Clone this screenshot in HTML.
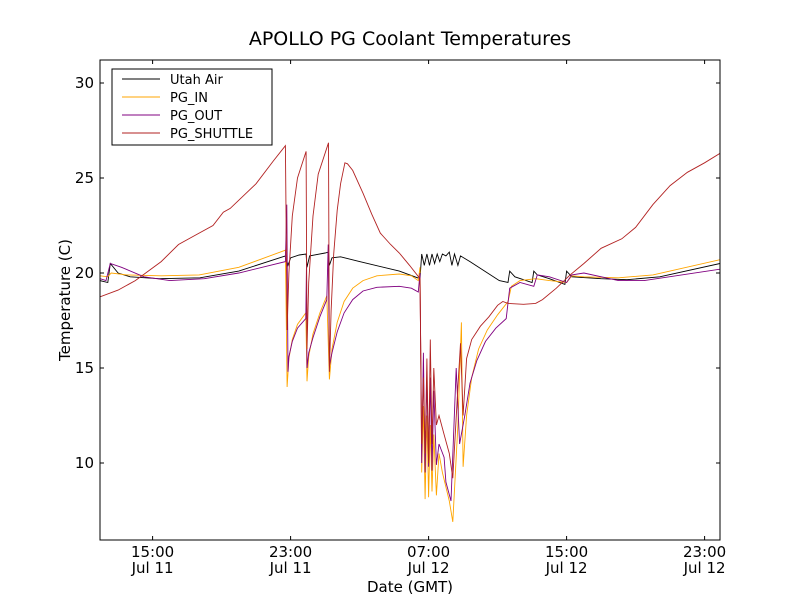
<!DOCTYPE html>
<html><head><meta charset="utf-8"><style>
body{margin:0;background:#fff;}
svg{font-family:"DejaVu Sans","Liberation Sans",sans-serif;}
</style></head><body>
<svg id="chart" width="800" height="600" xmlns="http://www.w3.org/2000/svg">
<rect width="800" height="600" fill="#fff"/>
<defs><clipPath id="clip"><rect x="100" y="60" width="620" height="480"/></clipPath></defs>
<text x="410" y="45" text-anchor="middle" font-size="19">APOLLO PG Coolant Temperatures</text>
<g id="series" clip-path="url(#clip)"></g>
<g id="axes"></g>
<rect x="100" y="60" width="620" height="480" fill="none" stroke="#000" stroke-width="1"/>
<text x="410" y="592" text-anchor="middle" font-size="15">Date (GMT)</text>
<text transform="translate(70,300) rotate(-90)" text-anchor="middle" font-size="15">Temperature (C)</text>
<g id="legend">
<rect x="112" y="69" width="160" height="76" fill="#fff" stroke="#000" stroke-width="1"/>
</g>
</svg>
<script>
const seriesNames = ["Utah Air","PG_IN","PG_OUT","PG_SHUTTLE"];
const seriesColors = ["#000000","#ffa500","#800080","#b22222"];
const yTicks = [10,15,20,25,30];
const xTickHours = [15,23,31,39,47];
const xTickLabels = [["15:00","Jul 11"],["23:00","Jul 11"],["07:00","Jul 12"],["15:00","Jul 12"],["23:00","Jul 12"]];
const utahAir = [[11.95,19.6],[12.4,19.5],[12.55,20.5],[13.0,20.0],[13.7,19.8],[15.4,19.7],[17.75,19.75],[20,20.1],[22.7,20.9],[22.85,20.4],[23.0,20.8],[23.5,20.95],[23.9,21.0],[23.95,20.3],[24.1,20.9],[25.0,21.05],[25.2,21.1],[25.25,20.4],[25.4,20.8],[25.9,20.85],[27,20.6],[29.3,20.1],[30.5,19.7],[30.6,21.0],[30.75,20.4],[30.9,21.0],[31.05,20.4],[31.2,21.0],[31.35,20.5],[31.5,21.0],[31.65,20.6],[31.8,21.0],[32.0,20.9],[32.2,21.1],[32.35,20.4],[32.5,21.0],[32.7,20.4],[32.85,20.9],[33.4,20.6],[35.1,19.6],[35.6,19.5],[35.7,20.1],[36.0,19.8],[37.0,19.5],[37.1,20.1],[37.3,19.9],[38.0,19.7],[38.9,19.4],[39.0,20.1],[39.3,19.8],[41,19.7],[42.5,19.65],[44.4,19.8],[47.9,20.5]];
const pgIn = [[11.95,19.85],[12.4,19.8],[12.6,20.0],[13.5,19.9],[15.5,19.85],[17.7,19.9],[20,20.3],[22.7,21.2],[22.8,14.0],[22.9,15.5],[23.1,16.5],[23.4,17.3],[23.88,17.9],[23.95,14.3],[24.05,15.6],[24.3,16.8],[24.7,17.9],[25.1,18.8],[25.25,14.4],[25.4,16.0],[25.7,17.4],[26.1,18.5],[26.6,19.2],[27.2,19.6],[28,19.85],[29.3,19.95],[30,19.85],[30.4,19.6],[30.5,20.3],[30.6,9.5],[30.7,13],[30.8,8.1],[30.9,12.5],[31.0,8.2],[31.1,12],[31.2,8.5],[31.3,11.5],[31.45,8.3],[31.6,10.5],[31.8,9.5],[32.2,8.0],[32.4,6.9],[32.7,12],[32.9,17.4],[33.0,9.8],[33.2,12.5],[33.5,14.5],[33.9,16],[34.4,17],[35,17.8],[35.6,18.5],[35.8,19.3],[36.3,19.6],[37.2,19.7],[38,19.6],[39,19.5],[39.3,19.85],[40,19.8],[42,19.75],[44,19.9],[47.9,20.7]];
const pgOut = [[11.95,19.7],[12.3,19.6],[12.55,20.5],[13.2,20.3],[14.5,19.8],[16,19.6],[18,19.7],[20,20.0],[22.7,20.6],[22.78,23.6],[22.85,14.8],[22.9,15.6],[23.1,16.4],[23.4,17.1],[23.88,17.6],[23.92,20.5],[23.95,15],[24.05,15.8],[24.3,16.6],[24.7,17.7],[25.1,18.6],[25.18,21.5],[25.25,15.1],[25.4,15.8],[25.7,16.9],[26.1,17.9],[26.6,18.6],[27.2,19.05],[28,19.25],[29.3,19.3],[30,19.2],[30.4,19.0],[30.5,20.0],[30.6,10],[30.7,15.8],[30.8,9.5],[30.9,14.5],[31.0,9.8],[31.1,14.5],[31.2,9.6],[31.3,13.8],[31.45,9.9],[31.6,11],[31.9,10.3],[32.0,9.0],[32.3,8.0],[32.6,15],[32.8,11],[33.1,12.5],[33.4,14.2],[33.8,15.4],[34.3,16.4],[34.9,17.1],[35.5,17.6],[35.7,19.2],[36.3,19.5],[37.1,19.3],[37.3,19.9],[38,19.8],[39,19.5],[39.3,19.9],[40,20],[42,19.6],[43.5,19.6],[47.9,20.2]];
const pgShuttle = [[11.95,18.75],[13,19.1],[14,19.6],[15.5,20.6],[16.5,21.5],[17.5,22.0],[18.5,22.5],[19.1,23.2],[19.5,23.4],[21,24.7],[22,25.9],[22.7,26.7],[22.8,17.0],[22.9,20],[23.1,23],[23.4,25],[23.9,26.4],[23.95,16.0],[24.05,19.5],[24.3,23],[24.6,25.2],[25.2,26.85],[25.25,14.8],[25.35,18],[25.5,21],[25.7,23.3],[25.9,24.7],[26.15,25.8],[26.3,25.75],[26.6,25.4],[27.2,24.2],[27.7,23.1],[28.2,22.1],[28.8,21.5],[29.3,21.05],[29.9,20.4],[30.5,19.7],[30.6,11],[30.7,14.5],[30.8,10.5],[30.9,15.5],[31.0,10],[31.1,16.5],[31.2,11],[31.3,15],[31.45,12],[31.6,12.5],[31.9,11.5],[32.2,10.5],[32.4,9.2],[32.7,14],[32.85,16.3],[33.0,12.5],[33.2,15.5],[33.5,16.5],[34,17.2],[34.5,17.7],[35,18.3],[35.3,18.5],[35.6,18.4],[36.5,18.35],[37.2,18.4],[37.6,18.6],[38.4,19.2],[39.2,19.9],[40,20.5],[41,21.3],[42.2,21.8],[43,22.4],[44,23.6],[45,24.6],[46,25.3],[47,25.8],[47.9,26.3]];
const allSeries = [utahAir,pgIn,pgOut,pgShuttle];

const NS="http://www.w3.org/2000/svg";
function xScale(h){return 152.6+17.25*(h-15);}
function yScale(v){return 463-(v-10)*19;}
const sg=document.getElementById('series');
const slugs=["utah-air","pg-in","pg-out","pg-shuttle"];
allSeries.forEach((s,i)=>{
  const p=document.createElementNS(NS,'path');
  p.setAttribute('d',s.map((pt,j)=>(j?'L':'M')+xScale(pt[0]).toFixed(1)+' '+yScale(pt[1]).toFixed(1)).join(''));
  p.setAttribute('fill','none');p.setAttribute('stroke',seriesColors[i]);p.setAttribute('stroke-width','0.9');
  
  
  sg.appendChild(p);
});
const ag=document.getElementById('axes');
function line(x1,y1,x2,y2){const l=document.createElementNS(NS,'line');l.setAttribute('x1',x1);l.setAttribute('y1',y1);l.setAttribute('x2',x2);l.setAttribute('y2',y2);l.setAttribute('stroke','#000');ag.appendChild(l);return l;}
function text(x,y,t,anchor){const e=document.createElementNS(NS,'text');e.setAttribute('x',x);e.setAttribute('y',y);e.setAttribute('font-size','15');e.setAttribute('text-anchor',anchor);e.textContent=t;ag.appendChild(e);return e;}
yTicks.forEach(v=>{
  const y=yScale(v);
  line(100,y,104,y);line(716,y,720,y);
  const t=text(94,y+5,String(v),'end');
  
  
});
xTickHours.forEach((h,i)=>{
  const x=xScale(h);
  line(x,540,x,536);line(x,60,x,64);
  const a=text(x,557,xTickLabels[i][0],'middle');
  
  
  const b=text(x,573,xTickLabels[i][1],'middle');
  
  
});
const lg=document.getElementById('legend');
seriesNames.forEach((n,i)=>{
  const y=79+i*18;
  const l=document.createElementNS(NS,'line');
  l.setAttribute('x1',122);l.setAttribute('x2',160);l.setAttribute('y1',y);l.setAttribute('y2',y);
  l.setAttribute('stroke',seriesColors[i]);l.setAttribute('stroke-width','0.9');
  
  
  lg.appendChild(l);
  const t=document.createElementNS(NS,'text');
  t.setAttribute('x',170);t.setAttribute('y',y+5);t.setAttribute('font-size','13');t.textContent=n;
  
  
  lg.appendChild(t);
});
</script>
</body></html>
